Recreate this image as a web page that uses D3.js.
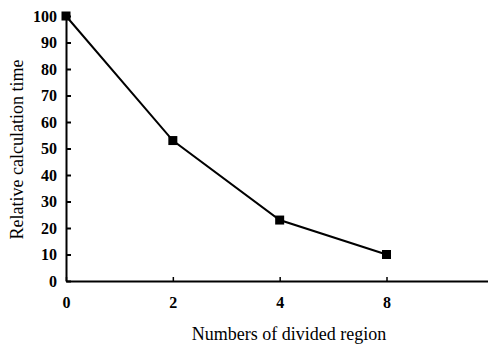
<!DOCTYPE html>
<html>
<head>
<meta charset="utf-8">
<script src="https://cdn.jsdelivr.net/npm/d3@7"></script>
<style>
  body { margin: 0; background: #fff; }
  svg { display: block; }
</style>
</head>
<body>
<div id="chart"></div>
<script>
// regions -> relative calculation time
var regions = ["0", "2", "4", "8"];
var relTime = [100, 53, 23, 10];
var yTicks = [0, 10, 20, 30, 40, 50, 60, 70, 80, 90, 100];

var W = 488, H = 345;
var margin = { top: 16, right: 0, bottom: 64, left: 66 };
var width = W - margin.left - margin.right,
    height = H - margin.top - margin.bottom;

var svg = d3.select("#chart")
    .append("svg")
    .attr("width", W)
    .attr("height", H)
    .append("g")
    .attr("transform", "translate(" + margin.left + "," + margin.top + ")");

var x = d3.scaleLinear()
    .domain([0, 3.95])
    .range([0, width]);

var y = d3.scaleLinear()
    .domain([0, 100])
    .range([height, 0]);

// y axis, ticks pointing inside
var yAxis = svg.append("g")
    .call(d3.axisLeft(y).tickValues(yTicks).tickSizeInner(-5).tickSizeOuter(0).tickPadding(9));
yAxis.select(".domain").attr("stroke-width", 2);
yAxis.selectAll(".tick line").attr("stroke-width", 2);
yAxis.selectAll("text")
    .style("font-family", "'Liberation Serif', serif")
    .style("font-weight", "bold")
    .style("font-size", "16px")
    .attr("fill", "#000");

// x axis
var xAxis = svg.append("g")
    .attr("transform", "translate(0," + height + ")")
    .call(d3.axisBottom(x)
        .tickValues(d3.range(regions.length))
        .tickFormat(function (i) { return regions[i]; })
        .tickSizeInner(-4).tickSizeOuter(0).tickPadding(16));
xAxis.select(".domain").attr("stroke-width", 2);
xAxis.selectAll(".tick line").attr("stroke-width", 1.5);
xAxis.selectAll("text")
    .style("font-family", "'Liberation Serif', serif")
    .style("font-weight", "bold")
    .style("font-size", "16px")
    .attr("fill", "#000");

// line
var line = d3.line()
    .x(function (d, i) { return x(i); })
    .y(function (d) { return y(d); });

svg.append("path")
    .datum(relTime)
    .attr("fill", "none")
    .attr("stroke", "#000")
    .attr("stroke-width", 2)
    .attr("d", line);

svg.selectAll("rect.mark")
    .data(relTime)
    .enter()
    .append("rect")
    .attr("class", "mark")
    .attr("x", function (d, i) { return x(i) - 4.5; })
    .attr("y", function (d) { return y(d) - 4.5; })
    .attr("width", 9)
    .attr("height", 9)
    .attr("fill", "#000");

// axis titles
svg.append("text")
    .attr("x", 223)
    .attr("y", height + 59)
    .attr("text-anchor", "middle")
    .style("font-family", "'Liberation Serif', serif")
    .style("font-size", "18px")
    .text("Numbers of divided region");

svg.append("text")
    .attr("transform", "translate(-43," + (height / 2 + 1) + ") rotate(-90)")
    .attr("text-anchor", "middle")
    .style("font-family", "'Liberation Serif', serif")
    .style("font-size", "18px")
    .text("Relative calculation time");
</script>
</body>
</html>
